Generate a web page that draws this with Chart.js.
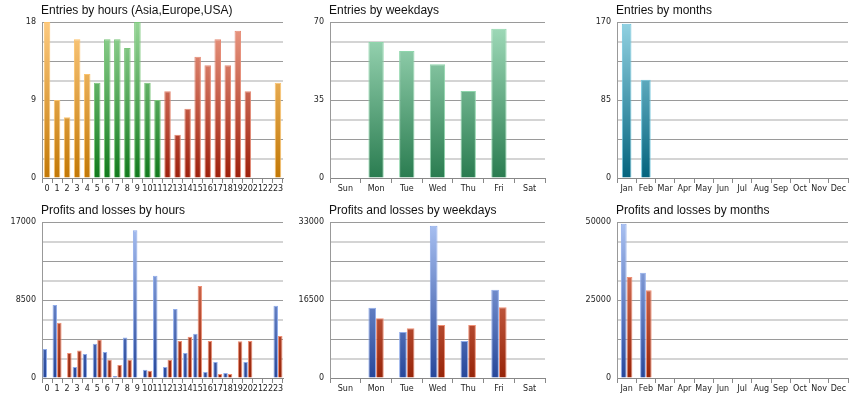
<!DOCTYPE html>
<html>
<head>
<meta charset="utf-8">
<script src="https://cdn.jsdelivr.net/npm/chart.js@4.4.1/dist/chart.umd.min.js"></script>
<style>
  body { margin: 0; background: #fff; width: 860px; height: 400px; position: relative; overflow: hidden; }
  .panel { position: absolute; }
  .title { position: absolute; font: 12px "Liberation Sans", Arial, sans-serif; color: #111; }
</style>
</head>
<body>
<script>
const hours = ['0','1','2','3','4','5','6','7','8','9','10','11','12','13','14','15','16','17','18','19','20','21','22','23'];
const weekdays = ['Sun','Mon','Tue','Wed','Thu','Fri','Sat'];
const months = ['Jan','Feb','Mar','Apr','May','Jun','Jul','Aug','Sep','Oct','Nov','Dec'];

const entriesByHour = [18,9,7,16,12,11,16,16,15,18,11,9,10,5,8,14,13,16,13,17,10,0,0,11];
const entriesByWeekday = [0,61,57,51,39,67,0];
const entriesByMonth = [168,107,0,0,0,0,0,0,0,0,0,0];

const profitsByHour = [3160,7950,0,1200,2620,3740,2830,220,4400,16090,910,11150,1200,7520,2720,4830,650,1740,550,0,1740,0,0,7880];
const lossesByHour = [0,6030,2720,3010,0,4180,2000,1420,2000,0,800,0,2000,4030,4500,10030,4030,440,440,4000,4030,0,0,4580];
const profitsByWeekday = [0,14870,9730,32220,7830,18690,0];
const lossesByWeekday = [0,12620,10510,11210,11210,14950,0];
const profitsByMonth = [49470,33760,0,0,0,0,0,0,0,0,0,0];
const lossesByMonth = [32370,28100,0,0,0,0,0,0,0,0,0,0];

const axisMax = { hours: 18, weekdays: 70, months: 170, plHours: 17000, plWeekdays: 33000, plMonths: 50000 };

const palette = {
  orange: ['#fdca80', '#c27806', '#fbc36c'],
  green: ['#95d495', '#117a1c', '#7cc67c'],
  red: ['#eb9a84', '#9e200c', '#e58a74'],
  mint: ['#a2dcbb', '#2a7c50', '#8fd6ac'],
  teal: ['#92d2e2', '#03637d', '#6fc4dc'],
  blue: ['#a9c1f2', '#27479a', '#90acea'],
  rust: ['#ec9078', '#972408', '#ef8f74']
};

function gradient(ctx, cols) {
  const chart = ctx.chart;
  const area = chart.chartArea;
  if (!area) return cols[1];
  const g = chart.ctx.createLinearGradient(0, area.top, 0, area.bottom);
  g.addColorStop(0, cols[0]);
  g.addColorStop(1, cols[1]);
  return g;
}

function hourColor(i) {
  if (i >= 5 && i <= 11) return palette.green;
  if (i >= 12 && i <= 20) return palette.red;
  return palette.orange;
}

function makeChart(opts) {
  const div = document.createElement('div');
  div.className = 'panel';
  div.style.left = (opts.left - 40) + 'px';
  div.style.top = opts.top + 'px';
  div.style.width = (opts.right - opts.left + 44) + 'px';
  div.style.height = '200px';
  const canvas = document.createElement('canvas');
  div.appendChild(canvas);
  document.body.appendChild(div);

  const t = document.createElement('div');
  t.className = 'title';
  t.textContent = opts.title;
  t.style.left = (opts.left - 1) + 'px';
  t.style.top = (opts.top + 3) + 'px';
  document.body.appendChild(t);

  const max = opts.max;
  new Chart(canvas, {
    type: 'bar',
    data: { labels: opts.labels, datasets: opts.datasets },
    options: {
      responsive: true,
      maintainAspectRatio: false,
      animation: false,
      layout: { padding: { top: 22, right: 4, bottom: 0, left: 0 } },
      plugins: { legend: { display: false }, tooltip: { enabled: false } },
      scales: {
        x: {
          grid: { display: true, drawOnChartArea: false, offset: true, tickLength: 5, color: '#888' },
          border: { color: '#888' },
          ticks: { font: { family: 'DejaVu Sans', size: 8 }, color: '#222', padding: 1, maxRotation: 0, autoSkip: false },
          afterFit: s => { s.height = 22; }
        },
        y: {
          min: 0, max: max,
          ticks: {
            stepSize: max / 8,
            font: { family: 'DejaVu Sans', size: 8 }, color: '#222', padding: 6,
            callback: (v, i) => (i % 4 === 0 ? v : '')
          },
          grid: {
            color: c => (c.index % 2 === 0 ? '#9a9a9a' : '#d4d4d4'),
            lineWidth: c => (c.index % 2 === 0 ? 1 : 2),
            drawTicks: false
          },
          border: { color: '#999' },
          afterFit: s => { s.width = 40; }
        }
      }
    }
  });
}

function single(values, colorFn, pct) {
  return {
    data: values,
    backgroundColor: c => gradient(c, colorFn(c.dataIndex)),
    borderColor: values.map((v, i) => colorFn(i)[2]),
    borderWidth: 1,
    categoryPercentage: pct, barPercentage: 1
  };
}

function pair(profits, losses, pct) {
  return [
    { data: profits, backgroundColor: c => gradient(c, palette.blue), borderColor: palette.blue[2], borderWidth: 1, categoryPercentage: pct, barPercentage: 1 },
    { data: losses, backgroundColor: c => gradient(c, palette.rust), borderColor: palette.rust[2], borderWidth: 1, categoryPercentage: pct, barPercentage: 1 }
  ];
}

makeChart({ title: 'Entries by hours (Asia,Europe,USA)', left: 42, right: 283, top: 0, labels: hours, max: axisMax.hours,
  datasets: [single(entriesByHour, hourColor, 0.65)] });
makeChart({ title: 'Entries by weekdays', left: 330, right: 545, top: 0, labels: weekdays, max: axisMax.weekdays,
  datasets: [single(entriesByWeekday, () => palette.mint, 0.5)] });
makeChart({ title: 'Entries by months', left: 617, right: 848, top: 0, labels: months, max: axisMax.months,
  datasets: [single(entriesByMonth, () => palette.teal, 0.5)] });

makeChart({ title: 'Profits and losses by hours', left: 42, right: 283, top: 200, labels: hours, max: axisMax.plHours,
  datasets: pair(profitsByHour, lossesByHour, 0.9) });
makeChart({ title: 'Profits and losses by weekdays', left: 330, right: 545, top: 200, labels: weekdays, max: axisMax.plWeekdays,
  datasets: pair(profitsByWeekday, lossesByWeekday, 0.5) });
makeChart({ title: 'Profits and losses by months', left: 617, right: 848, top: 200, labels: months, max: axisMax.plMonths,
  datasets: pair(profitsByMonth, lossesByMonth, 0.6) });
</script>
</body>
</html>
